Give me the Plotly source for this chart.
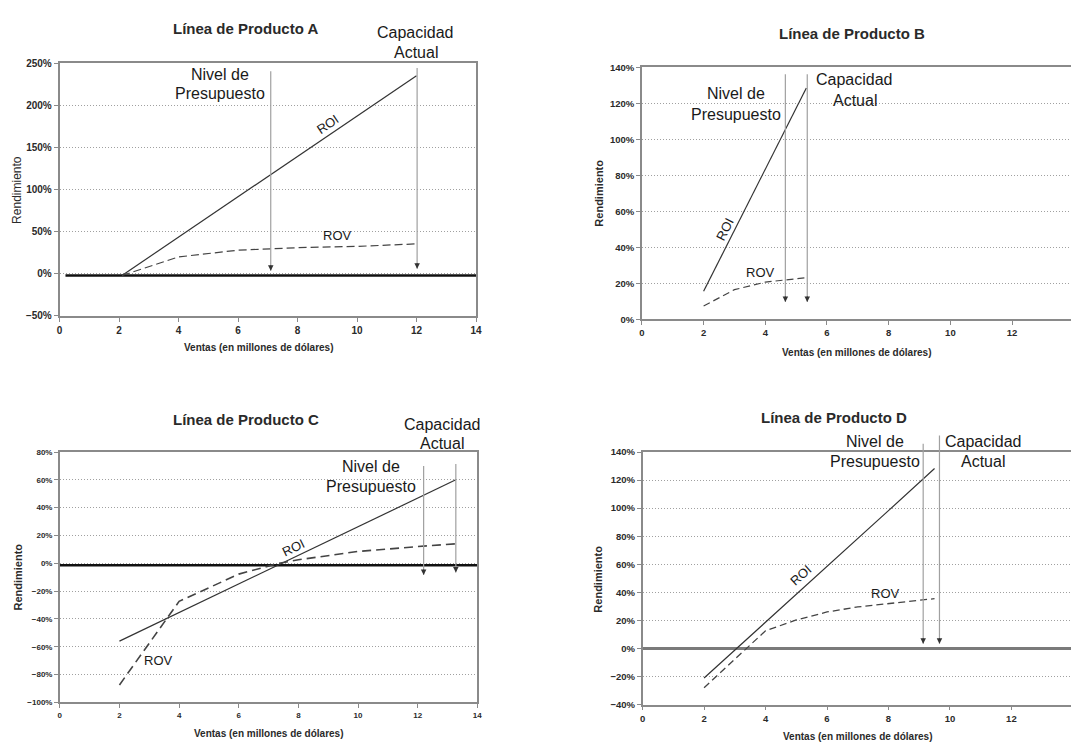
import plotly.graph_objects as go

W, H = 1077, 747

# ---------------- data ----------------
# Panel A
a_roi_x = [2.1, 12]
a_roi_y = [-2, 235]
a_rov_x = [2.1, 4, 6, 8, 10, 12]
a_rov_y = [-2, 20, 28, 31, 32.5, 35.5]
a_base_x = [0.2, 14]
a_base_y = [-2, -2]
a_arrow_x = [7.1, 12.02]
a_arrow_top = [242, 246]
a_arrow_tip = [3.5, 6]

# Panel B
b_roi_x = [2, 4, 5.33]
b_roi_y = [15.5, 83, 128.5]
b_rov_x = [2, 3, 4, 5.33]
b_rov_y = [7.3, 16.4, 20.6, 23.1]
b_arrow_x = [4.65, 5.36]
b_arrow_top = [137, 137]
b_arrow_tip = [9.6, 9.6]

# Panel C
c_roi_x = [2, 4, 6, 8, 10, 12, 13.28]
c_roi_y = [-56, -35.5, -15, 5.5, 26, 47, 60]
c_rov_x = [2, 4, 6, 7.35, 8, 10, 12, 13.28]
c_rov_y = [-87.5, -27.4, -7.8, 0, 2.5, 8.5, 12, 14]
c_base_x = [0, 14]
c_base_y = [-1.4, -1.4]
c_arrow_x = [12.2, 13.28]
c_arrow_top = [71, 72.4]
c_arrow_tip = [-8.5, -6.6]

# Panel D
d_roi_x = [2, 4, 8, 9.5]
d_roi_y = [-21, 18.6, 98.2, 128.3]
d_rov_x = [2, 4, 5, 6, 7, 8, 9, 9.5]
d_rov_y = [-28, 12.6, 20.3, 26, 29.6, 32, 34.5, 35.5]
d_base_x = [0, 14]
d_base_y = [0, 0]
d_arrow_x = [9.13, 9.66]
d_arrow_top = [147, 152.8]
d_arrow_tip = [3.3, 3.3]

titles = ["Línea de Producto A", "Línea de Producto B", "Línea de Producto C", "Línea de Producto D"]
x_title = "Ventas (en millones de dólares)"
y_title = "Rendimiento"
lbl_nivel = ["Nivel de", "Presupuesto"]
lbl_cap = ["Capacidad", "Actual"]

# ---------------- style ----------------
SANS = "Liberation Sans, Arial, sans-serif"
TXT = "#2a2a2a"
AXC = "#8a8a8a"
GRID = "#a0a0a0"


def paper(px, py):
    return px / W, 1 - py / H


fig = go.Figure()
annotations = []

panels = [
    dict(k="", xdom=(57, 477), ydom=(58, 315), xr=[0, 14], yr=[-50, 250], dy=50,
         mirror_y=True, xfs=10, yfs=10,
         roi=(a_roi_x, a_roi_y), rov=(a_rov_x, a_rov_y), base=(a_base_x, a_base_y, "#111", 2.5),
         arrows=(a_arrow_x, a_arrow_top, a_arrow_tip), dash="8px,4px", rovw=1.2,
         nivel=[(219, 70), (219, 89.3)], cap=[(416, 26.7), (416, 47.3)],
         roilbl=(327, 120, -34), rovlbl=(337, 233),
         title=(245, 23), xt=(258, 347), yt=(14, 187), ytbold=False),
    dict(k="2", xdom=(644.3, W), ydom=(62.3, 318.3), xr=[0, 13.91], yr=[0, 140], dy=20,
         mirror_y=False, xfs=9.5, yfs=9.5,
         roi=(b_roi_x, b_roi_y), rov=(b_rov_x, b_rov_y), base=None,
         arrows=(b_arrow_x, b_arrow_top, b_arrow_tip), dash="7px,4px", rovw=1.2,
         nivel=[(739, 89.3), (739, 110.7)], cap=[(859, 75), (859, 95.7)],
         roilbl=(727.7, 226.7, -63), rovlbl=(764.3, 270.7),
         title=(856, 28), xt=(861, 352), yt=(600.7, 190), ytbold=True),
    dict(k="3", xdom=(57.3, 478.3), ydom=(453.3, 707.7), xr=[0, 14], yr=[-100, 80], dy=20,
         mirror_y=True, xfs=8, yfs=8,
         roi=(c_roi_x, c_roi_y), rov=(c_rov_x, c_rov_y), base=(c_base_x, c_base_y, "#111", 2.5),
         arrows=(c_arrow_x, c_arrow_top, c_arrow_tip), dash="9px,5px", rovw=1.6,
         nivel=[(371.3, 468.3), (371.3, 488.3)], cap=[(443, 425), (443, 445)],
         roilbl=(293.3, 550.7, -26), rovlbl=(156.7, 665),
         title=(245, 420), xt=(268, 739), yt=(15, 580), ytbold=True),
    dict(k="4", xdom=(645, W), ydom=(453.3, 710), xr=[0, 13.94], yr=[-40, 140], dy=20,
         mirror_y=False, xfs=9.5, yfs=9.5,
         roi=(d_roi_x, d_roi_y), rov=(d_rov_x, d_rov_y), base=(d_base_x, d_base_y, "#7a7a7a", 3),
         arrows=(d_arrow_x, d_arrow_top, d_arrow_tip), dash="7px,4px", rovw=1.3,
         nivel=[(879.7, 442.7), (879.7, 463.3)], cap=[(988.5, 442.7), (988.5, 463.3)],
         roilbl=(804, 578.3, -42), rovlbl=(890, 597.3),
         title=(838, 418), xt=(862, 742), yt=(600, 582), ytbold=True),
]


def ptext(px, py, text, size, color="#1a1a1a", angle=0, weight="normal"):
    x, y = paper(px, py)
    return dict(x=x, y=y, xref="paper", yref="paper", text=text, showarrow=False,
                xanchor="center", yanchor="middle", textangle=angle,
                font=dict(family=SANS, size=size, color=color, weight=weight))


layout_axes = {}
for i, p in enumerate(panels):
    k = p["k"]
    xa, ya = "x" + k, "y" + k
    x0, x1 = p["xdom"]
    yt_, yb_ = p["ydom"]
    layout_axes["xaxis" + k] = dict(
        domain=[x0 / W, min(x1 / W, 1.0)], range=p["xr"], anchor=ya, dtick=2, tick0=0,
        showgrid=False, zeroline=False, showline=True, linecolor=AXC, linewidth=1.5,
        mirror=True, ticks="outside", ticklen=4, tickcolor=AXC, tickwidth=1,
        tickfont=dict(family=SANS, size=p["xfs"], color=TXT, weight="bold"),
    )
    layout_axes["yaxis" + k] = dict(
        domain=[1 - yb_ / H, 1 - yt_ / H], range=p["yr"], anchor=xa, dtick=p["dy"],
        tick0=0, ticksuffix="%", showgrid=True, gridcolor=GRID, griddash="1px,2px", gridwidth=1,
        zeroline=False, showline=True, linecolor=AXC, linewidth=1.5, mirror=p["mirror_y"],
        ticks="outside", ticklen=4, tickcolor=AXC, tickwidth=1,
        tickfont=dict(family=SANS, size=p["yfs"], color=TXT, weight="bold"),
    )

    if p["base"] is not None:
        bx, by, bc, bw = p["base"]
        fig.add_trace(go.Scatter(x=bx, y=by, mode="lines", line=dict(color=bc, width=bw),
                                 xaxis=xa, yaxis=ya, showlegend=False, hoverinfo="skip"))
    fig.add_trace(go.Scatter(x=p["roi"][0], y=p["roi"][1], mode="lines",
                             line=dict(color="#333333", width=1.2),
                             xaxis=xa, yaxis=ya, showlegend=False, name="ROI"))
    fig.add_trace(go.Scatter(x=p["rov"][0], y=p["rov"][1], mode="lines",
                             line=dict(color="#444444", width=p["rovw"], dash=p["dash"]),
                             xaxis=xa, yaxis=ya, showlegend=False, name="ROV"))

    # arrows
    axs, tops, tips = p["arrows"]
    for X, top, tip in zip(axs, tops, tips):
        annotations.append(dict(x=X, y=tip, ax=X, ay=top, xref=xa, yref=ya, axref=xa, ayref=ya,
                                text="", showarrow=True, arrowhead=0, arrowwidth=1.2,
                                arrowcolor="#a0a0a0", standoff=0, startstandoff=0))
        annotations.append(dict(x=X, y=tip, ax=0, ay=-7, xref=xa, yref=ya,
                                text="", showarrow=True, arrowhead=2, arrowsize=1.1,
                                arrowwidth=1, arrowcolor="#333333", standoff=0))

    for (lx, ly), t in zip(p["nivel"], lbl_nivel):
        annotations.append(ptext(lx, ly, t, 16))
    for (lx, ly), t in zip(p["cap"], lbl_cap):
        annotations.append(ptext(lx, ly, t, 16))
    rx, ry, ang = p["roilbl"]
    annotations.append(ptext(rx, ry, "ROI", 13, angle=ang))
    vx, vy = p["rovlbl"]
    annotations.append(ptext(vx, vy, "ROV", 13))

    annotations.append(ptext(*p["title"], titles[i], 15, color=TXT, weight="bold"))
    annotations.append(ptext(*p["xt"], x_title, 10, color=TXT, weight="bold"))
    annotations.append(ptext(*p["yt"], y_title, 11 if p["ytbold"] else 12, color=TXT,
                             angle=-90, weight="bold" if p["ytbold"] else "normal"))

fig.update_layout(
    width=W, height=H, margin=dict(l=0, r=0, t=0, b=0),
    paper_bgcolor="white", plot_bgcolor="white", showlegend=False,
    annotations=annotations, **layout_axes,
)

fig.write_html("out.html")
